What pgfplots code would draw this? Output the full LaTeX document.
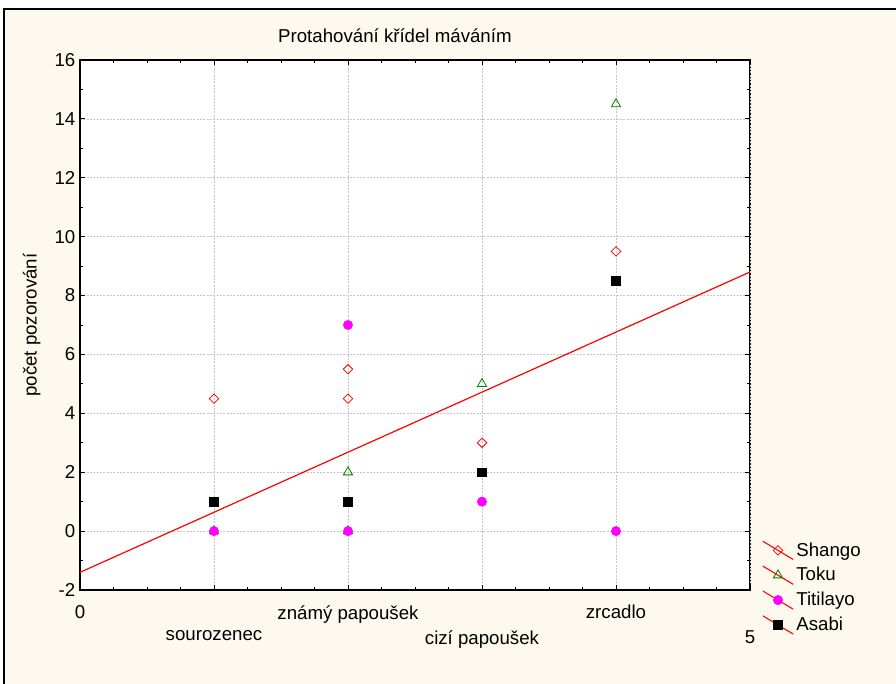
\documentclass[border=0pt]{standalone}
\usepackage{pgfplots}
\pgfplotsset{compat=1.18}
\usepackage{fontspec}
\setmainfont{Liberation Sans}
\definecolor{cream}{RGB}{253,249,238}
\definecolor{tokugreen}{RGB}{0,128,0}
\definecolor{titimag}{RGB}{255,0,255}
\newcommand{\chartfont}{\fontsize{14}{18.75}\selectfont}

\begin{document}
\begin{tikzpicture}
% outer frame (runs off the right and bottom edge)
\draw[line width=1.3pt, fill=cream] (3pt,-20pt) rectangle (720pt,505.5pt);
\begin{axis}[
  at={(60pt,69.75pt)}, anchor=south west,
  scale only axis, width=502.5pt, height=397.5pt,
  xmin=0, xmax=5, ymin=-2, ymax=16,
  % labels on two rows: 0, 2, 4 above, 1, 3, 5 below
  xtick={0,2,4},
  xticklabels={0,známý papoušek,zrcadlo},
  extra x ticks={1,3,5},
  extra x tick labels={sourozenec,cizí papoušek,5},
  extra x tick style={xticklabel style={yshift=-19pt}},
  minor xtick={0.25,0.5,0.75,1.25,1.5,1.75,2.25,2.5,2.75,3.25,3.5,3.75,4.25,4.5,4.75},
  xticklabel style={font=\chartfont, yshift=-8pt},
  ytick={-2,0,2,4,6,8,10,12,14,16},
  yticklabel style={font=\chartfont},
  minor y tick num=1,
  tick align=inside, major tick length=3.5pt, minor tick length=2pt,
  tick style={black, line width=0.6pt},
  /pgf/number format/assume math mode=true,
  grid=major,
  grid style={gray!45, dash pattern=on 1.5pt off 1pt, line width=0.5pt},
  axis line style={line width=1.1pt},
  axis background/.style={fill=white},
  title={Protahování křídel máváním},
  title style={at={(0.47,1.03)}, anchor=center, font=\chartfont},
  ylabel={počet pozorování},
  ylabel style={at={(-0.072,0.5)}, anchor=center, font=\chartfont},
  legend style={at={(1.012,0.10)}, anchor=north west, draw=none, fill=none,
    font=\chartfont, row sep=3pt},
  legend cell align=left,
  legend image code/.code={
    \draw[red, line width=0.8pt, solid] (0cm,0.24cm) -- (0.8cm,-0.24cm);
    \draw[mark repeat=2, mark phase=2] plot coordinates {(0cm,0.24cm)(0.4cm,0cm)(0.8cm,-0.24cm)};
  },
]
\addplot[only marks, red, mark=square, mark size=2.5pt,
  mark options={rotate=45, fill=white, line width=0.6pt}] coordinates
  {(1,4.5)(2,5.5)(2,4.5)(3,3)(4,9.5)};
\addlegendentry{Shango}
\addplot[only marks, tokugreen, mark=triangle, mark size=4pt,
  mark options={fill=white, line width=0.6pt}] coordinates
  {(1,0)(2,2)(2,0)(3,5)(4,14.5)};
\addlegendentry{Toku}
\addplot[only marks, titimag, mark=*, mark size=3.5pt,
  mark options={fill=titimag, draw=titimag}] coordinates
  {(1,0)(2,7)(2,0)(3,1)(4,0)};
\addlegendentry{Titilayo}
\addplot[only marks, black, mark=square*, mark size=3.3pt] coordinates
  {(1,1)(2,1)(3,2)(4,8.5)};
\addlegendentry{Asabi}
\addplot[red, line width=0.9pt, forget plot] coordinates {(0,-1.4)(5,8.8)};
\end{axis}
\pgfresetboundingbox
\useasboundingbox (0,0) rectangle (672pt,512.25pt);
\end{tikzpicture}
\end{document}
